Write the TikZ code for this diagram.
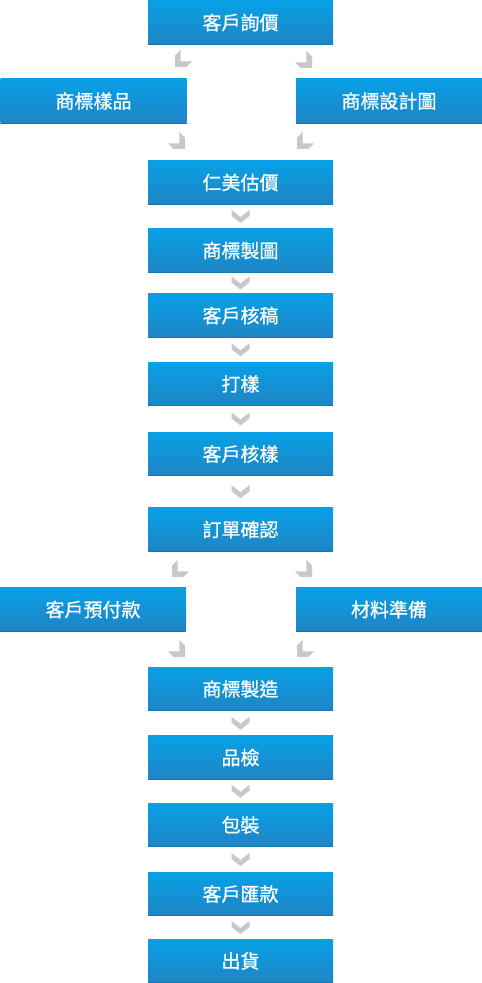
\documentclass[tikz,border=0pt]{standalone}
\usepackage{fontspec}
\setmainfont{Noto Sans CJK TC}
\newfontfamily\boxfont{Noto Sans CJK TC}[FakeBold=0.8]
\usetikzlibrary{calc}
\definecolor{boxtop}{RGB}{8,160,230}
\definecolor{boxbot}{RGB}{30,133,196}
\definecolor{boxedge}{RGB}{22,118,178}
\definecolor{arrowgray}{RGB}{200,200,200}
\tikzset{
  flowbox/.style={rectangle, inner sep=0pt, top color=boxtop, bottom color=boxbot,
    text=white, font=\boxfont\fontsize{19}{19}\selectfont, minimum height=43pt,
    append after command={\pgfextra{\let\mynode\tikzlastnode}
      (\mynode.south west) edge[draw=boxedge, line width=1pt, shorten <=0pt] (\mynode.south east)}},
  mainbox/.style={flowbox, minimum width=185pt},
  sidebox/.style={flowbox, minimum width=186pt},
  chev/.pic={\fill[arrowgray] (-9,6.5)--(0,-0.5)--(9,6.5)--(9,0.5)--(0,-6.5)--(-9,0.5)--cycle;},
  cornerL/.pic={\fill[arrowgray] (5.66,17)--(5.66,5.66)--(17,5.66)--(11.3,0)--(0,0)--(0,11.3)--cycle;}
}
\begin{document}
\begin{tikzpicture}[x=1pt,y=1pt]
\useasboundingbox (0,0) rectangle (482,983);
\fill[white] (0,0) rectangle (482,983);
% main column
\node[mainbox] (m1) at (240.5,960.5) {客戶詢價};
\node[mainbox] (m2) at (240.5,800.5) {仁美估價};
\node[mainbox] (m3) at (240.5,732.5) {商標製圖};
\node[mainbox] (m4) at (240.5,667.5) {客戶核稿};
\node[mainbox] (m5) at (240.5,599) {打樣};
\node[mainbox] (m6) at (240.5,529) {客戶核樣};
\node[mainbox] (m7) at (240.5,453.5) {訂單確認};
\node[mainbox] (m8) at (240.5,294) {商標製造};
\node[mainbox] (m9) at (240.5,225.5) {品檢};
\node[mainbox] (m10) at (240.5,158) {包裝};
\node[mainbox] (m11) at (240.5,89) {客戶匯款};
\node[mainbox] (m12) at (240.5,22) {出貨};
% side boxes
\node[sidebox, minimum height=44pt] (s1l) at (93.5,882) {商標樣品};
\node[sidebox, minimum height=44pt] (s1r) at (389,882) {商標設計圖};
\node[sidebox] (s2l) at (93,373.5) {客戶預付款};
\node[sidebox] (s2r) at (389,373.5) {材料準備};
% down chevrons between main boxes
\foreach \a/\b in {m2/m3,m3/m4,m4/m5,m5/m6,m6/m7,m8/m9,m9/m10,m10/m11,m11/m12}{
  \pic at ($(\a.south)!0.5!(\b.north)$) {chev};
}
% corner arrows, upper split
\pic at (175,916) {cornerL};
\pic[xscale=-1] at (312,915) {cornerL};
\pic[xscale=-1] at (185,834) {cornerL};
\pic at (297,834) {cornerL};
% corner arrows, lower split
\pic at (172,406) {cornerL};
\pic[xscale=-1] at (312,406) {cornerL};
\pic[xscale=-1] at (185,326) {cornerL};
\pic at (297,326) {cornerL};
\end{tikzpicture}
\end{document}
